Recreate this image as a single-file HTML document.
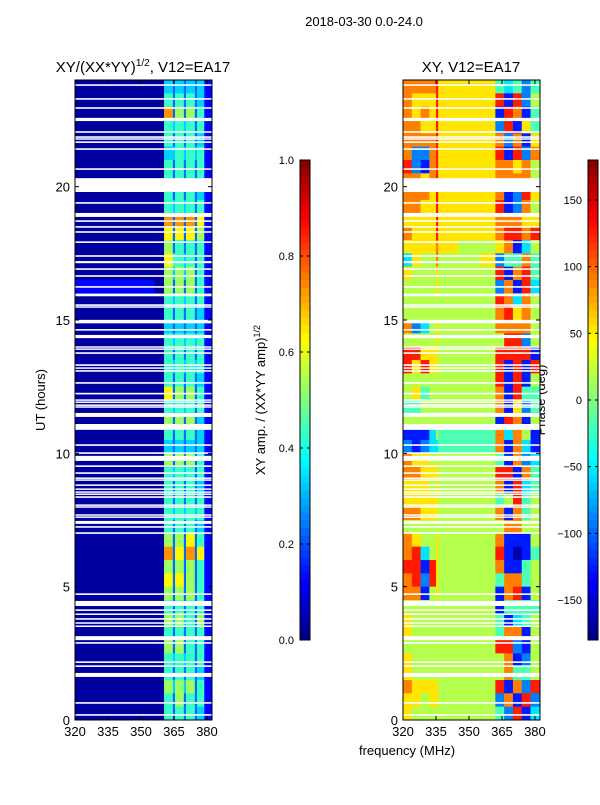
<!DOCTYPE html>
<html><head><meta charset="utf-8"><style>
body{margin:0;background:#fff;}
svg text{font-family:"Liberation Sans","DejaVu Sans",sans-serif;fill:#000;}
</style></head><body>
<svg id="fig" width="600" height="800" viewBox="0 0 600 800" xmlns="http://www.w3.org/2000/svg">
<rect width="600" height="800" fill="#fff"/>
<text x="364" y="26" font-size="13" text-anchor="middle">2018-03-30 0.0-24.0</text>
<text x="143" y="72" font-size="15" text-anchor="middle">XY/(XX*YY)<tspan font-size="10" dy="-6">1/2</tspan><tspan dy="6">, V12=EA17</tspan></text>
<text x="471" y="72" font-size="15" text-anchor="middle">XY, V12=EA17</text>
<text x="0" y="0" font-size="13" text-anchor="middle" transform="translate(45,400) rotate(-90)">UT (hours)</text>
<text x="407" y="755" font-size="13" text-anchor="middle">frequency (MHz)</text>
<text x="0" y="0" font-size="13" text-anchor="middle" transform="translate(265,400) rotate(-90)">XY amp. / (XX*YY amp)<tspan font-size="9" dy="-5">1/2</tspan></text>
<text x="0" y="0" font-size="13" text-anchor="middle" transform="translate(545,400) rotate(-90)">Phase (deg)</text>
<g id="layer"></g>
</svg>
<script>
const xTicks=[320,335,350,365,380];
const yTicks=[0,5,10,15,20];
const ampTicks=[0.0,0.2,0.4,0.6,0.8,1.0];
const phaseTicks=[-150,-100,-50,0,50,100,150];
const leftFreqEdges=[320,335,350,356,360.5,364.5,365.5,369.5,370.5,374.5,375.5,378.8,382.3];
const rightFreqEdges=[320,324,328,332,335,336,345,355,362,366,370,374,378,382.3];
// rows top (24h) to bottom (0h), 0.5 h each; digit = amplitude level
const ampRows=["000032323231","000042424231","000072525241","000043434241","000042424231","000033434341","000042424241","000042424241",
"000042424231","000043434241","000072727261","000062626251","000052424241","000064434241","000053535241","111052525241",
"000043434241","000042424231","000032323231","000043434341","000042424241","000043434341","000042424231","000062525241",
"000043434241","000052525231","000042424231","000032323231","000052525241","000043434241","000042424231","000042424241",
"000043434341","000042424231","000052526241","000072627261","000052525241","000062625241","000052525241","000042424241",
"000053534251","000042424241","000052524241","000043434241","000042424231","000053535241","000042524241","000042424231"];
// digit = phase level (0 -> -180, 9 -> +180)
const phaseRows=["7777866643424","7666866681825","7676866618714","7766866628164","7777866672716","7227866681827","8217866677675","7767866677775",
"7776866671286","7766866681275","6666866677766","7666866678878","6666765567135","3655755624474","6555655581784","5555655527183",
"5555555587375","5555555578675","7235655577775","5555655558825","8866655588881","8686655581818","5555555581815","5645555571844",
"4455555571624","5555555518715","1113544473751","2123344471731","7665655541723","7766655588174","6665655571834","6666655545845",
"7766655571745","5555555557755","7655655571115","7835655581014","8818655571145","7828655547745","7715655517815","5555555514444",
"6555555541345","6555555547715","5555555588215","6555555557125","6555555557445","7666655581728","6656655527182","6555555542813"];
// flagged (blank) time intervals: [center hour, width hour]
const gaps=[[23.81,0.06],[23.29,0.06],[22.95,0.06],[22.52,0.12],[22.05,0.06],[21.86,0.06],[21.79,0.05],[21.67,0.06],[21.41,0.06],[20.66,0.06],
[20.06,0.52],[19.39,0.06],[18.94,0.15],[18.71,0.06],[18.49,0.06],[18.30,0.06],[17.92,0.06],[17.40,0.06],[17.17,0.08],[16.91,0.06],[16.65,0.06],
[16.24,0.06],[15.94,0.1],[15.56,0.06],[15.49,0.05],[14.94,0.13],[14.63,0.06],[14.38,0.12],[13.99,0.05],[13.91,0.05],[13.76,0.06],[13.31,0.06],
[13.2,0.05],[13.09,0.06],[12.64,0.06],[12.24,0.06],[12.0,0.05],[11.92,0.05],[11.81,0.05],[11.74,0.05],[11.44,0.15],[10.99,0.22],[10.31,0.06],
[10.01,0.06],[9.81,0.19],[9.52,0.06],[9.26,0.06],[9.07,0.05],[9.0,0.05],[8.81,0.05],[8.66,0.05],[8.55,0.05],[8.47,0.05],[8.36,0.06],[8.06,0.05],
[7.99,0.05],[7.69,0.05],[7.61,0.05],[7.41,0.11],[7.24,0.06],[7.01,0.06],[4.72,0.06],[4.37,0.19],[4.12,0.06],[3.97,0.05],[3.79,0.06],[3.64,0.05],
[3.52,0.05],[3.07,0.15],[2.89,0.06],[2.17,0.06],[2.02,0.06],[1.69,0.15],[0.64,0.06],[0.19,0.06]];

const NS="http://www.w3.org/2000/svg";
const layer=document.getElementById('layer');
function mk(tag,attrs,parent){const e=document.createElementNS(NS,tag);for(const k in attrs)e.setAttribute(k,attrs[k]);(parent||layer).appendChild(e);return e;}
function jet(v){v=Math.max(0,Math.min(1,v));const c=x=>Math.round(255*Math.max(0,Math.min(1,x)));
return `rgb(${c(1.5-Math.abs(4*v-3))},${c(1.5-Math.abs(4*v-2))},${c(1.5-Math.abs(4*v-1))})`;}
const T0=80,B0=720;
function yScale(h){return B0-(h/24)*(B0-T0);}
function mkX(x0,x1){return f=>x0+(f-320)/(382.3-320)*(x1-x0);}

function panel(name,x0,x1,edges,rows,valFn){
  const xs=mkX(x0,x1);
  const g=mk('g',{});
  
  
  const n=rows.length;
  rows.forEach((row,i)=>{
    const hTop=24-i*24/n,hBot=24-(i+1)*24/n;
    for(let j=0;j<edges.length-1;j++){
      const r=mk('rect',{x:xs(edges[j]),y:yScale(hTop),width:xs(edges[j+1])-xs(edges[j])+0.3,height:yScale(hBot)-yScale(hTop)+0.3,fill:jet(valFn(+row[j]))},g);
      
      
    }
  });
  gaps.forEach(gp=>{
    const r=mk('rect',{x:x0,y:yScale(gp[0]+gp[1]/2),width:x1-x0,height:Math.max(1.5,yScale(gp[0]-gp[1]/2)-yScale(gp[0]+gp[1]/2)),fill:'#fff'},g);
    
    
  });
  const ax=mk('g',{});
  
  
  mk('rect',{x:x0,y:T0,width:x1-x0,height:B0-T0,fill:'none',stroke:'#000','stroke-width':1},ax);
  xTicks.forEach(t=>{const x=xs(t);
    mk('line',{x1:x,x2:x,y1:B0,y2:B0-4,stroke:'#000'},ax);mk('line',{x1:x,x2:x,y1:T0,y2:T0+4,stroke:'#000'},ax);
    const tx=mk('text',{x:x,y:B0+16,'font-size':13,'text-anchor':'middle'},ax);tx.textContent=t;
    
    });
  yTicks.forEach(t=>{const y=yScale(t);
    mk('line',{x1:x0,x2:x0+4,y1:y,y2:y,stroke:'#000'},ax);mk('line',{x1:x1,x2:x1-4,y1:y,y2:y,stroke:'#000'},ax);
    const tx=mk('text',{x:x0-5,y:y+5,'font-size':13,'text-anchor':'end'},ax);tx.textContent=t;
    
    });
}
panel('amplitude',75,212,leftFreqEdges,ampRows,d=>d/10+0.03);
panel('phase',403,540,rightFreqEdges,phaseRows,d=>(d+0.5)/10);

function colorbar(name,x,lo,hi,ticks,fmt){
  const g=mk('g',{});
  
  
  const top=160,bot=640,N=64;
  for(let i=0;i<N;i++){mk('rect',{x:x,y:bot-(i+1)*(bot-top)/N,width:10,height:(bot-top)/N+0.4,fill:jet((i+0.5)/N)},g);}
  mk('rect',{x:x,y:top,width:10,height:bot-top,fill:'none',stroke:'#000'},g);
  ticks.forEach(t=>{const y=bot-(t-lo)/(hi-lo)*(bot-top);
    mk('line',{x1:x,x2:x+3,y1:y,y2:y,stroke:'#000'},g);mk('line',{x1:x+10,x2:x+7,y1:y,y2:y,stroke:'#000'},g);
    const tx=mk('text',{x:x-6,y:y+4,'font-size':11,'text-anchor':'end'},g);tx.textContent=fmt(t);
    
    });
}
colorbar('amplitude-colorbar',300,0,1,ampTicks,t=>t.toFixed(1));
colorbar('phase-colorbar',588,-180,180,phaseTicks,t=>t<0?'\u2212'+(-t):''+t);
</script>
</body></html>
